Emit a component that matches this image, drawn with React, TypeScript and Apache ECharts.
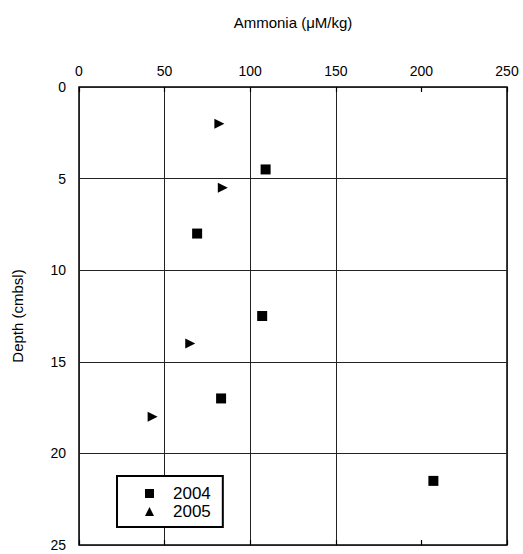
import React, { useEffect, useRef } from "react";
import * as echarts from "echarts";

const xTicks = [0, 50, 100, 150, 200, 250];
const yTicks = [0, 5, 10, 15, 20, 25];
const depth2004 = [4.5, 8, 12.5, 17, 21.5];
const amm2004 = [109, 69, 107, 83, 207];
const depth2005 = [2, 5.5, 14, 18];
const amm2005 = [82, 84, 65, 43];
const seriesNames = ["2004", "2005"];

const FONT = "Liberation Sans, Arial, Helvetica, sans-serif";

export default function App() {
  const ref = useRef<HTMLDivElement>(null);
  useEffect(() => {
    if (!ref.current) return;
    const chart = echarts.init(ref.current, undefined, { renderer: "svg" });
    const xMin = xTicks[0];
    const xMax = xTicks[xTicks.length - 1];
    const xInt = xTicks[1] - xTicks[0];
    const yMin = yTicks[0];
    const yMax = yTicks[yTicks.length - 1];
    const yInt = yTicks[1] - yTicks[0];
    const gridColors = xTicks.map((v) => (v === 200 ? "rgba(0,0,0,0)" : "#222"));
    chart.setOption({
      animation: false,
      backgroundColor: "#fff",
      textStyle: { fontFamily: FONT },
      grid: {
        left: 79,
        right: 16,
        top: 87,
        bottom: 9,
        show: true,
        borderColor: "#000",
        borderWidth: 1.5,
        backgroundColor: "transparent",
      },
      xAxis: [
        {
          type: "value",
          position: "top",
          min: xMin,
          max: xMax,
          interval: xInt,
          name: "Ammonia (\u03bcM/kg)",
          nameLocation: "middle",
          nameGap: 57,
          nameTextStyle: { fontSize: 15, color: "#000", fontFamily: FONT },
          axisLine: { show: false },
          axisTick: { show: true, inside: true, length: 5, lineStyle: { color: "#000", width: 1.2 } },
          axisLabel: { fontSize: 14, color: "#000", margin: 9, fontFamily: FONT },
          splitLine: { show: true, lineStyle: { color: gridColors, width: 1 } },
        },
        {
          type: "value",
          position: "bottom",
          min: xMin,
          max: xMax,
          interval: xInt,
          axisLine: { show: false },
          axisTick: { show: true, inside: true, length: 5, lineStyle: { color: "#000", width: 1.2 } },
          axisLabel: { show: false },
          splitLine: { show: false },
        },
      ],
      yAxis: {
        type: "value",
        inverse: true,
        min: yMin,
        max: yMax,
        interval: yInt,
        name: "Depth (cmbsl)",
        nameLocation: "middle",
        nameGap: 54,
        nameTextStyle: { fontSize: 15, color: "#000", fontFamily: FONT },
        axisLine: { show: false },
        axisTick: { show: false },
        axisLabel: { fontSize: 14, color: "#000", margin: 13, fontFamily: FONT },
        splitLine: { show: true, lineStyle: { color: "#222", width: 1 } },
      },
      legend: {
        orient: "vertical",
        left: 117,
        top: 476,
        data: seriesNames,
        backgroundColor: "#fff",
        borderColor: "#000",
        borderWidth: 2,
        borderRadius: 0,
        padding: [9, 12, 7, 28],
        itemGap: 1,
        itemWidth: 9,
        itemHeight: 9,
        symbolRotate: 0,
        itemStyle: { opacity: 1 },
        textStyle: { fontSize: 17, color: "#000", fontFamily: FONT, lineHeight: 17, padding: [0, 0, 0, 14] },
      },
      series: [
        {
          name: seriesNames[0],
          type: "scatter",
          xAxisIndex: 0,
          symbol: "rect",
          symbolSize: 10,
          symbolKeepAspect: true,
          itemStyle: { color: "#000", opacity: 1 },
          data: amm2004.map((v, i) => [v, depth2004[i]]),
        },
        {
          name: seriesNames[1],
          type: "scatter",
          xAxisIndex: 0,
          symbol: "triangle",
          symbolRotate: -90,
          symbolSize: 10,
          symbolKeepAspect: true,
          itemStyle: { color: "#000", opacity: 1 },
          data: amm2005.map((v, i) => [v, depth2005[i]]),
        },
      ],
    });
    return () => chart.dispose();
  }, []);
  return (
    <div
      ref={ref}
      style={{ position: "fixed", left: 0, top: 0, width: 523, height: 554, background: "#fff" }}
    />
  );
}
